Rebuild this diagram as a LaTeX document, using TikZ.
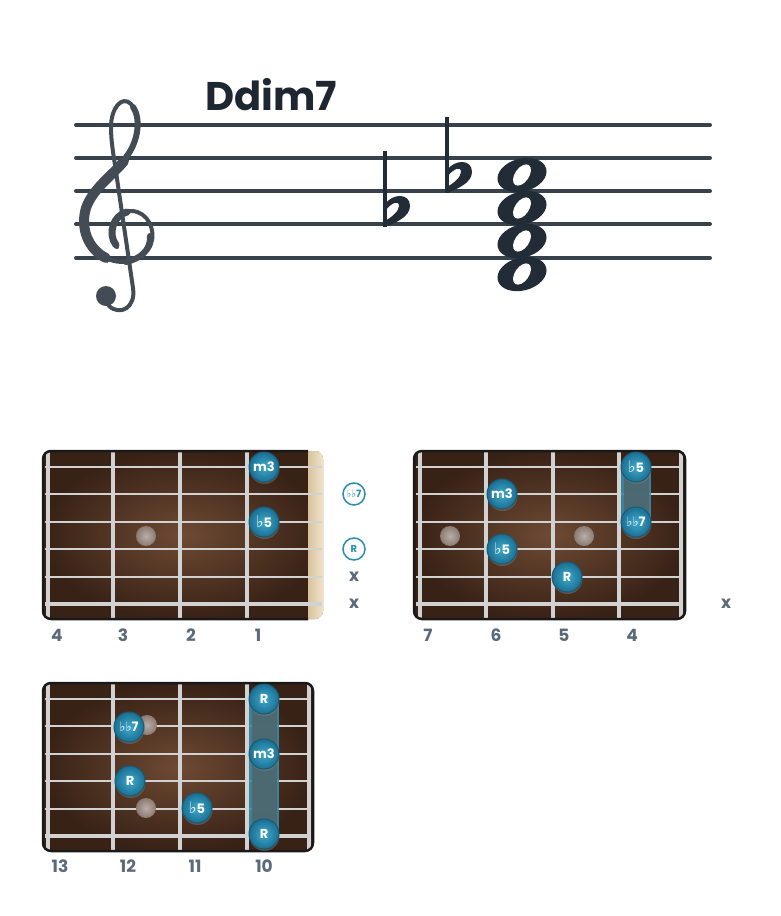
\documentclass[tikz,border=0pt]{standalone}
\usepackage{fontspec}
\setmainfont{Poppins}
\newfontfamily\symfont{DejaVu Sans}
\usetikzlibrary{shadows}

\definecolor{ink}{HTML}{1D2631}
\definecolor{staffgrey}{HTML}{38424C}
\definecolor{clefgrey}{HTML}{434C55}
\definecolor{noteink}{HTML}{222C36}
\definecolor{woodin}{HTML}{6E4A33}
\definecolor{woodout}{HTML}{382216}
\definecolor{wire}{HTML}{D2D2D2}
\definecolor{dotin}{HTML}{3FAACD}
\definecolor{dotout}{HTML}{1B6F92}
\definecolor{dotrim}{HTML}{165B78}
\definecolor{numgrey}{HTML}{5A6A7B}
\definecolor{openblue}{HTML}{2A8CB0}
\definecolor{nutleft}{HTML}{D8C29E}
\definecolor{nutright}{HTML}{F1E3C9}
\definecolor{inlayin}{HTML}{BBAEA6}
\definecolor{inlayout}{HTML}{8A7A72}
\definecolor{barreedge}{HTML}{3A8BA8}
\definecolor{barrecore}{HTML}{4E666D}

\newcommand{\flt}[1][16]{{\symfont\bfseries\fontsize{#1}{#1}\selectfont ♭}}

\tikzset{
  staffline/.style={staffgrey, line width=4, line cap=round},
  chordtitle/.style={ink, inner sep=0, font=\bfseries\fontsize{40}{40}\selectfont},
  clef/.style={clefgrey, line cap=round},
  wood/.style={inner color=woodin, outer color=woodout},
  rim/.style={draw=black!90, line width=2.5},
  fretwire/.style={wire, line width=3.5},
  strg/.style={wire, line width=#1},
  inlay/.style={inner color=inlayin, outer color=inlayout},
  tone/.style={circle, minimum size=30, inner sep=0, inner color=dotin, outer color=dotout,
    draw=dotrim, line width=1, text=white, font=\bfseries\fontsize{13}{13}\selectfont,
    drop shadow={opacity=0.45, shadow xshift=0.5pt, shadow yshift=-2pt}},
  barreout/.style={barreedge, line width=30, line cap=round, opacity=0.9},
  barrein/.style={barrecore, line width=25, line cap=round, opacity=0.9},
  openring/.style={circle, draw=openblue, line width=1.5, fill=white, minimum size=22,
    inner sep=0, text=openblue, font=\bfseries\fontsize{10}{10}\selectfont},
  mute/.style={numgrey, font=\bfseries\fontsize{17}{17}\selectfont},
  fretnum/.style={numgrey, font=\bfseries\fontsize{17}{17}\selectfont},
  flatsign/.pic={
    \draw[noteink, line width=4] (0,-57) -- (0,19);
    \fill[noteink] (0,-4) .. controls (8,-15) and (25,-15) .. (25,-2)
      .. controls (25,9) and (10,15) .. (0,19) -- (0,13)
      .. controls (7,9) and (14,3) .. (14,-2)
      .. controls (14,-8) and (7,-6) .. (0,3) -- cycle;
  },
  wholenote/.pic={
    \fill[noteink, rotate=15] (0,0) ellipse [x radius=25, y radius=16.5];
    \fill[white, rotate=55] (0,0) ellipse [x radius=12, y radius=7];
  }
}

\begin{document}
\begin{tikzpicture}[x=1pt, y=-1pt]
\useasboundingbox (0,0) rectangle (780,916);

% staff
\foreach \y in {125,158,191,224,258}
  \draw[staffline] (76,\y) -- (710,\y);
\node[chordtitle, anchor=base west] (title) at (205,110) {Ddim7};

% treble clef
\draw[clef, line width=4] (117,247) .. controls (104,232) and (116,210) .. (132,211)
  .. controls (148,212) and (156,230) .. (151,244)
  .. controls (145,260) and (124,266) .. (108,259)
  .. controls (88,250) and (79,228) .. (86,208)
  .. controls (93,188) and (114,174) .. (125,160)
  .. controls (137,144) and (143,118) .. (131,104)
  .. controls (122,95) and (111,108) .. (111,127)
  .. controls (111,140) and (113,152) .. (115,165)
  -- (133,288)
  .. controls (136,308) and (120,316) .. (109,306);
\draw[clef, line width=10] (106,258) .. controls (88,249) and (80,228) .. (86,208)
  .. controls (93,188) and (114,174) .. (124,161);
\draw[clef, line width=7] (116,245) .. controls (107,233) and (114,215) .. (127,212);
\draw[clef, line width=6] (126,157) .. controls (137,144) and (142,120) .. (133,107);
\draw[clef, line width=6] (150,236) .. controls (151,250) and (140,259) .. (126,262);
\fill[clefgrey] (106,296) circle (10);

% accidentals and chord
\pic at (385,208) {flatsign};
\pic at (447,174) {flatsign};
\foreach \y in {175,208,241,274}
  \pic at (522,\y) {wholenote};

% board 1 (frets 1-4, nut)
\path[wood, rounded corners=8] (43,451) rectangle (323,619);
\foreach \x in {48,113,180,247}
  \draw[fretwire] (\x,452) -- (\x,618);
\shade[left color=nutleft, right color=nutright, rounded corners=7]
  (308,451) -- (323,451) -- (323,619) -- (308,619);
\foreach \y/\w in {467/1.5,494/1.8,522/2.1,549/2.4,577/2.8,604/3.8}
  \draw[strg=\w] (45,\y) -- (322,\y);
\draw[rim, rounded corners=8] (308,451) -- (43,451) -- (43,619) -- (308,619);
\shade[inlay] (146,536) circle (10);
\node[tone] (b1m3) at (264,467) {m3};
\node[tone] (b1f5) at (264,522) {\flt 5};
\node[openring] (o1s) at (354,494) {\flt[10]\flt[10]7};
\node[openring] (o1r) at (354,549) {R};
\node[mute] (x1a) at (354,577) {x};
\node[mute] (x1b) at (354,604) {x};
\foreach \n/\x in {4/57,3/123,2/191,1/258}
  \node[fretnum] (f1n\n) at (\x,635) {\n};

% board 2 (frets 4-7)
\path[wood, rounded corners=8] (414,451) rectangle (685,619);
\foreach \x in {420,486,553,619,681}
  \draw[fretwire] (\x,452) -- (\x,618);
\foreach \y/\w in {467/1.5,494/1.8,522/2.1,549/2.4,577/2.8,604/3.8}
  \draw[strg=\w] (416,\y) -- (683,\y);
\draw[rim, rounded corners=8] (414,451) rectangle (685,619);
\shade[inlay] (450,536) circle (10);
\shade[inlay] (584,536) circle (10);
\coordinate (b2top) at (636,467);
\coordinate (b2bot) at (636,522);
\draw[barreout] (b2top) -- (b2bot);
\draw[barrein] (b2top) -- (b2bot);
\node[tone] (b2f5a) at (b2top) {\flt 5};
\node[tone] (b2m3) at (502,494) {m3};
\node[tone] (b2d7) at (b2bot) {\flt[13]\flt[13]7};
\node[tone] (b2f5b) at (502,549) {\flt 5};
\node[tone] (b2r) at (567,577) {R};
\node[mute] (x2) at (726,604) {x};
\foreach \n/\x in {7/428,6/496,5/564,4/632}
  \node[fretnum] (f2n\n) at (\x,635) {\n};

% board 3 (frets 10-13)
\path[wood, rounded corners=8] (43,683) rectangle (313,851);
\foreach \x in {48,113,180,247,309}
  \draw[fretwire] (\x,684) -- (\x,850);
\foreach \y/\w in {699/1.5,726/1.8,754/2.1,781/2.4,809/2.8,836/3.8}
  \draw[strg=\w] (45,\y) -- (311,\y);
\draw[rim, rounded corners=8] (43,683) rectangle (313,851);
\shade[inlay] (147,725) circle (10);
\shade[inlay] (146,808) circle (10);
\coordinate (b3top) at (264,699);
\coordinate (b3bot) at (264,834);
\draw[barreout] (b3top) -- (b3bot);
\draw[barrein] (b3top) -- (b3bot);
\node[tone] (b3ra) at (b3top) {R};
\node[tone] (b3d7) at (129,727) {\flt[13]\flt[13]7};
\node[tone] (b3m3) at (264,754) {m3};
\node[tone] (b3rb) at (130,781) {R};
\node[tone] (b3f5) at (197,808) {\flt 5};
\node[tone] (b3rc) at (b3bot) {R};
\foreach \n/\x in {13/60,12/128,11/195,10/264}
  \node[fretnum] (f3n\n) at (\x,866) {\n};
\end{tikzpicture}
\end{document}
